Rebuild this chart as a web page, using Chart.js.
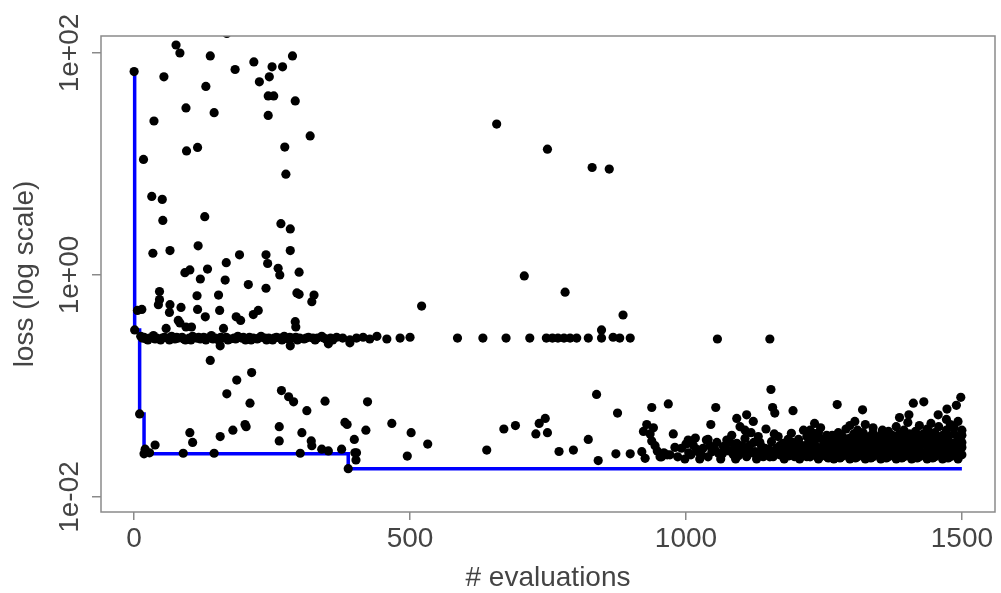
<!DOCTYPE html>
<html>
<head>
<meta charset="utf-8">
<script src="https://cdn.jsdelivr.net/npm/chart.js@4.4.0/dist/chart.umd.min.js"></script>
<style>
  html, body { margin: 0; padding: 0; background: #fff; }
</style>
</head>
<body>
<canvas id="myChart" width="1001" height="593"></canvas>
<script>
// axis ticks
const xTicks = [0, 500, 1000, 1500];
const yTicks = [0.01, 1, 100];
const yTickLabels = ["1e-02", "1e+00", "1e+02"];

// [evaluation, loss]
const upperPts = [
  [0, 68], [76, 118], [83, 100], [138, 94], [54, 61], [183, 71], [217, 83], [287, 94],
  [250, 75], [269, 75], [227, 55], [245, 61], [130, 50], [243, 41], [253, 41], [292, 37],
  [94, 32], [145, 29], [243, 27.4], [36, 24.4], [319, 17.9], [273, 14.2], [95, 13.1],
  [115, 14.1], [17, 11], [275, 8.1], [32, 5.1], [51, 4.8], [52, 3.1], [128, 3.35],
  [266, 2.9], [283, 2.6], [34, 1.57], [65, 1.66], [116, 1.83], [283, 1.66], [191, 1.52],
  [239, 1.52], [242, 1.27], [167, 1.29], [133, 1.13], [92, 1.05], [101, 1.11], [261, 1.15],
  [264, 1.0], [299, 1.06], [168, 150],
  [657, 22.9], [749, 13.6], [830, 9.3], [861, 9.0], [707, 0.98], [781, 0.70]
];

const bandPts = [
  [1, 0.32], [6, 0.48], [14, 0.49], [120, 0.92], [165, 0.90], [207, 0.82], [239, 0.76],
  [46, 0.71], [114, 0.65], [153, 0.66], [295, 0.69], [299, 0.67], [326, 0.66], [322, 0.575],
  [46, 0.60], [44, 0.54], [65, 0.54], [64, 0.46], [85, 0.51], [115, 0.49], [129, 0.42],
  [155, 0.48], [225, 0.48], [216, 0.44], [185, 0.42], [193, 0.39], [80, 0.39], [83, 0.37],
  [104, 0.34], [94, 0.34], [58, 0.33], [162, 0.33], [292, 0.38], [293, 0.34], [521, 0.525],
  [886, 0.436], [847, 0.32],
  [12, 0.28], [15, 0.27], [22, 0.265], [28, 0.27], [35, 0.285], [41, 0.27], [48, 0.26],
  [55, 0.275], [61, 0.27], [68, 0.28], [74, 0.265], [80, 0.27], [87, 0.275], [93, 0.26],
  [100, 0.27], [106, 0.28], [113, 0.27], [120, 0.265], [126, 0.275], [133, 0.27], [140, 0.285],
  [147, 0.27], [153, 0.26], [160, 0.27], [167, 0.275], [174, 0.265], [181, 0.27], [188, 0.28],
  [195, 0.27], [202, 0.26], [209, 0.275], [216, 0.27], [223, 0.265], [230, 0.28], [237, 0.27],
  [244, 0.27], [251, 0.26], [258, 0.275], [265, 0.27], [272, 0.28], [279, 0.265], [286, 0.27],
  [293, 0.275], [300, 0.27], [308, 0.265], [316, 0.275], [324, 0.27], [332, 0.27], [340, 0.28],
  [348, 0.265], [356, 0.27], [367, 0.275], [391, 0.26], [415, 0.275], [440, 0.28], [458, 0.265],
  [482, 0.27], [500, 0.275], [586, 0.27], [632, 0.27], [674, 0.27], [717, 0.27], [747, 0.27],
  [758, 0.27], [768, 0.27], [779, 0.27], [790, 0.27], [802, 0.27], [823, 0.27], [847, 0.27],
  [868, 0.275], [880, 0.27], [899, 0.27], [1057, 0.265], [1152, 0.265],
  [156, 0.23], [283, 0.23], [352, 0.24], [391, 0.245], [138, 0.17],
  [18, 0.275], [25, 0.26], [38, 0.265], [51, 0.27], [64, 0.26], [77, 0.275], [90, 0.265],
  [103, 0.26], [117, 0.275], [130, 0.26], [143, 0.265], [157, 0.275], [170, 0.26], [184, 0.265],
  [198, 0.275], [212, 0.26], [226, 0.27], [240, 0.26], [254, 0.27], [268, 0.26], [282, 0.275],
  [296, 0.26], [312, 0.27], [328, 0.26], [344, 0.27], [360, 0.26], [378, 0.27], [403, 0.27],
  [427, 0.265]
];

const lowPts = [
  [10, 0.056], [18, 0.0245], [20, 0.027], [28, 0.025], [38, 0.0294], [213, 0.132], [186, 0.113],
  [168, 0.085], [210, 0.070], [267, 0.091], [280, 0.080], [289, 0.072], [313, 0.060], [346, 0.073],
  [423, 0.072], [101, 0.038], [106, 0.031], [156, 0.035], [179, 0.040], [201, 0.045], [203, 0.043],
  [263, 0.043], [263, 0.032], [304, 0.038], [321, 0.032], [322, 0.029], [340, 0.027], [352, 0.026],
  [376, 0.027], [382, 0.047], [386, 0.045], [399, 0.033], [420, 0.040], [403, 0.025], [402, 0.0216],
  [388, 0.018], [301, 0.0248], [89, 0.0248], [145, 0.0248], [400, 0.025], [467, 0.046],
  [502, 0.038], [532, 0.030], [495, 0.0234], [639, 0.0265], [670, 0.041], [691, 0.044],
  [745, 0.051], [734, 0.046], [728, 0.037], [749, 0.038], [770, 0.0257], [796, 0.0265],
  [823, 0.033], [838, 0.084], [841, 0.0213], [876, 0.057], [873, 0.0245], [899, 0.0245],
  [920, 0.0256], [926, 0.0223]
];

const latePts = [
  [938, 0.064], [968, 0.069], [1054, 0.064], [1154, 0.093], [1157, 0.064], [1161, 0.057],
  [1194, 0.060], [1045, 0.045], [1092, 0.051], [1110, 0.055], [1122, 0.048], [1098, 0.043],
  [1107, 0.040], [1274, 0.068], [1320, 0.061], [1412, 0.070], [1431, 0.072], [1498, 0.079],
  [1490, 0.067], [1473, 0.062], [1387, 0.052], [1404, 0.055], [1457, 0.055], [1306, 0.048],
  [1290, 0.041], [929, 0.045], [935, 0.037], [938, 0.032], [923, 0.039], [953, 0.023],
  [977, 0.037], [956, 0.023], [1040, 0.033],
  [941, 0.042], [944, 0.029], [948, 0.026], [960, 0.025], [966, 0.024], [971, 0.024],
  [985, 0.023], [998, 0.022], [1009, 0.024], [1025, 0.022], [1040, 0.023], [1052, 0.027],
  [1000, 0.030], [1017, 0.034],
  [980, 0.028], [992, 0.0275], [1004, 0.0326], [1013, 0.0294], [1022, 0.0256], [1031, 0.0275],
  [1037, 0.0326], [1047, 0.0256], [1059, 0.0248], [1068, 0.0284], [1074, 0.0326], [1083, 0.036],
  [1092, 0.0305], [1098, 0.0265], [1107, 0.0337], [1116, 0.0294], [1125, 0.0256], [1110, 0.0231],
  [1086, 0.024], [1131, 0.035], [1137, 0.0284], [1146, 0.0248], [1155, 0.0315], [1164, 0.0275],
  [1167, 0.035], [1158, 0.0231], [1140, 0.0231], [1176, 0.0305], [1182, 0.0248], [1191, 0.0375],
  [1201, 0.0284], [1209, 0.0248], [1219, 0.035], [1228, 0.0305], [1237, 0.0265], [1243, 0.0231],
  [1197, 0.0231], [1213, 0.040], [1231, 0.0375], [1219, 0.0231],
  [1063, 0.022], [1078, 0.026], [1090, 0.022], [1102, 0.029], [1120, 0.025], [1128, 0.022],
  [1134, 0.031], [1150, 0.027], [1160, 0.037], [1170, 0.024], [1178, 0.022], [1185, 0.033],
  [1188, 0.027], [1195, 0.025], [1204, 0.033], [1206, 0.022], [1215, 0.027], [1222, 0.031],
  [1170, 0.029], [1145, 0.041], [1118, 0.038],
  [1005, 0.025], [1019, 0.027], [1028, 0.024], [1043, 0.029], [1056, 0.031], [1066, 0.0245],
  [1071, 0.029], [1080, 0.031], [1088, 0.0275], [1095, 0.0235], [1104, 0.025], [1113, 0.027],
  [1123, 0.031], [1133, 0.025], [1143, 0.0275], [1152, 0.023], [1162, 0.025], [1173, 0.027],
  [1180, 0.029], [1187, 0.0235], [1193, 0.031], [1199, 0.026], [1211, 0.029], [1217, 0.0245],
  [1224, 0.026]
];

// the solid mass of evaluations after 1200
const densePts = [
  [1225, 0.023], [1225, 0.027], [1225, 0.032], [1225, 0.040],
  [1233, 0.025], [1233, 0.030], [1233, 0.046],
  [1240, 0.022], [1240, 0.026], [1240, 0.034], [1240, 0.038],
  [1248, 0.024], [1248, 0.029], [1248, 0.033],
  [1255, 0.023], [1255, 0.027], [1255, 0.036],
  [1262, 0.025], [1262, 0.031],
  [1268, 0.022], [1268, 0.026], [1268, 0.029], [1268, 0.034],
  [1276, 0.024], [1276, 0.028], [1276, 0.038],
  [1282, 0.023], [1282, 0.032], [1282, 0.036],
  [1290, 0.025], [1290, 0.027], [1290, 0.030],
  [1297, 0.022], [1297, 0.026], [1297, 0.034], [1297, 0.044],
  [1304, 0.024], [1304, 0.029], [1304, 0.037],
  [1311, 0.023], [1311, 0.027], [1311, 0.031], [1311, 0.040],
  [1318, 0.025], [1318, 0.033], [1318, 0.036],
  [1325, 0.022], [1325, 0.026], [1325, 0.029], [1325, 0.045],
  [1332, 0.024], [1332, 0.028], [1332, 0.035],
  [1339, 0.023], [1339, 0.031], [1339, 0.038], [1339, 0.042],
  [1346, 0.025], [1346, 0.027], [1346, 0.033],
  [1353, 0.022], [1353, 0.026], [1353, 0.030], [1353, 0.036],
  [1360, 0.024], [1360, 0.029], [1360, 0.034],
  [1367, 0.023], [1367, 0.027], [1367, 0.032], [1367, 0.039],
  [1374, 0.025], [1374, 0.030], [1374, 0.036],
  [1381, 0.022], [1381, 0.026], [1381, 0.028], [1381, 0.033], [1381, 0.043],
  [1388, 0.024], [1388, 0.031], [1388, 0.037],
  [1395, 0.023], [1395, 0.027], [1395, 0.034], [1395, 0.040],
  [1402, 0.025], [1402, 0.029], [1402, 0.032], [1402, 0.047],
  [1409, 0.022], [1409, 0.026], [1409, 0.036],
  [1416, 0.024], [1416, 0.028], [1416, 0.031], [1416, 0.039],
  [1423, 0.023], [1423, 0.027], [1423, 0.034], [1423, 0.044],
  [1430, 0.025], [1430, 0.030], [1430, 0.037],
  [1437, 0.022], [1437, 0.026], [1437, 0.032], [1437, 0.041],
  [1444, 0.024], [1444, 0.029], [1444, 0.035], [1444, 0.046],
  [1451, 0.023], [1451, 0.027], [1451, 0.031], [1451, 0.038],
  [1458, 0.025], [1458, 0.033], [1458, 0.043],
  [1465, 0.022], [1465, 0.026], [1465, 0.029], [1465, 0.036],
  [1472, 0.024], [1472, 0.028], [1472, 0.034], [1472, 0.040], [1472, 0.050],
  [1479, 0.023], [1479, 0.027], [1479, 0.031], [1479, 0.045],
  [1486, 0.025], [1486, 0.030], [1486, 0.037], [1486, 0.042],
  [1493, 0.022], [1493, 0.026], [1493, 0.033], [1493, 0.048],
  [1500, 0.024], [1500, 0.028], [1500, 0.031], [1500, 0.036], [1500, 0.040],
  [1229, 0.0245], [1229, 0.029], [1236, 0.0235], [1236, 0.035], [1244, 0.0275], [1244, 0.042],
  [1251, 0.025], [1251, 0.031], [1258, 0.0225], [1258, 0.029], [1265, 0.024], [1265, 0.036],
  [1272, 0.027], [1272, 0.032], [1279, 0.0225], [1279, 0.030], [1286, 0.025], [1286, 0.034],
  [1293, 0.0235], [1293, 0.029], [1300, 0.027], [1300, 0.031], [1307, 0.0225], [1307, 0.034],
  [1314, 0.025], [1314, 0.029], [1321, 0.024], [1321, 0.038], [1328, 0.027], [1328, 0.032],
  [1335, 0.0225], [1335, 0.026], [1342, 0.029], [1342, 0.035], [1349, 0.024], [1349, 0.031],
  [1356, 0.0275], [1356, 0.040], [1363, 0.0225], [1363, 0.034], [1370, 0.025], [1370, 0.028],
  [1377, 0.0235], [1377, 0.031], [1384, 0.029], [1384, 0.036], [1391, 0.0225], [1391, 0.027],
  [1398, 0.025], [1398, 0.031], [1405, 0.0235], [1405, 0.037], [1412, 0.028], [1412, 0.033],
  [1419, 0.0225], [1419, 0.026], [1426, 0.025], [1426, 0.031], [1433, 0.0235], [1433, 0.035],
  [1440, 0.028], [1440, 0.039], [1447, 0.0225], [1447, 0.033], [1454, 0.025], [1454, 0.029],
  [1461, 0.024], [1461, 0.031], [1468, 0.027], [1468, 0.033], [1475, 0.0225], [1475, 0.036],
  [1482, 0.025], [1482, 0.028], [1489, 0.0235], [1489, 0.031], [1496, 0.027], [1496, 0.034]
];

const allPts = upperPts.concat(bandPts, lowPts, latePts, densePts)
  .map((p) => ({ x: p[0], y: p[1] }));

// best loss so far (blue step line)
const sorted = allPts.slice().sort((a, b) => a.x - b.x);
const bestSoFar = [];
let best = Infinity;
sorted.forEach((p) => {
  if (p.y < best) {
    best = p.y;
    bestSoFar.push({ x: p.x, y: best });
  }
});
bestSoFar.push({ x: sorted[sorted.length - 1].x, y: best });

const axisGrey = "#8a8a8a";
const textGrey = "#444";
const fontFamily = "'Liberation Sans', Arial, sans-serif";

const framePlugin = {
  id: "frame",
  afterDraw: (chart) => {
    const { ctx, chartArea } = chart;
    const yScale = chart.scales.y;
    ctx.save();
    ctx.strokeStyle = axisGrey;
    ctx.lineWidth = 1.5;
    ctx.strokeRect(chartArea.left, chartArea.top,
      chartArea.right - chartArea.left, chartArea.bottom - chartArea.top);
    ctx.fillStyle = textGrey;
    ctx.font = "28px " + fontFamily;
    ctx.textAlign = "center";
    ctx.textBaseline = "alphabetic";
    yTicks.forEach((v, i) => {
      const py = yScale.getPixelForValue(v);
      ctx.save();
      ctx.translate(78, py);
      ctx.rotate(-Math.PI / 2);
      ctx.fillText(yTickLabels[i], 0, 0);
      ctx.restore();
    });
    ctx.restore();
  },
};

const ctx = document.getElementById("myChart");
new Chart(ctx, {
  type: "scatter",
  data: {
    datasets: [
      {
        label: "evaluations",
        data: allPts,
        backgroundColor: "#000",
        borderWidth: 0,
        pointRadius: 4.6,
        order: 0,
        clip: 0,
      },
      {
        type: "line",
        label: "best",
        data: bestSoFar,
        borderColor: "#0000ff",
        borderWidth: 3.5,
        pointRadius: 0,
        stepped: true,
        fill: false,
        order: 1,
        clip: 0,
      },
    ],
  },
  options: {
    responsive: false,
    devicePixelRatio: 1,
    animation: false,
    layout: { padding: { top: 36, right: 6, left: 0, bottom: 0 } },
    plugins: { legend: { display: false }, tooltip: { enabled: false } },
    scales: {
      x: {
        type: "linear",
        min: -60,
        max: 1560,
        afterBuildTicks: (scale) => {
          scale.ticks = xTicks.map((v) => ({ value: v }));
        },
        afterFit: (scale) => {
          scale.height = 81;
        },
        ticks: {
          color: textGrey,
          font: { size: 28, family: fontFamily },
          padding: 2,
          maxRotation: 0,
          autoSkip: false,
          callback: (v) => String(v),
        },
        grid: {
          drawOnChartArea: false,
          drawTicks: true,
          tickLength: 8,
          color: axisGrey,
          lineWidth: 1.5,
        },
        border: { display: false },
        title: {
          display: true,
          text: "# evaluations",
          color: textGrey,
          font: { size: 28, family: fontFamily },
          padding: { top: 0, bottom: -2 },
        },
      },
      y: {
        type: "logarithmic",
        min: Math.pow(10, -2.135),
        max: Math.pow(10, 2.153),
        afterBuildTicks: (scale) => {
          scale.ticks = yTicks.map((v) => ({ value: v }));
        },
        afterFit: (scale) => {
          scale.width = 101;
        },
        ticks: { display: false },
        grid: {
          drawOnChartArea: false,
          drawTicks: true,
          tickLength: 9,
          color: axisGrey,
          lineWidth: 1.5,
        },
        border: { display: false },
        title: {
          display: true,
          text: "loss (log scale)",
          color: textGrey,
          font: { size: 28, family: fontFamily },
          padding: { top: 8, bottom: 0 },
        },
      },
    },
  },
  plugins: [framePlugin],
});
</script>
</body>
</html>
